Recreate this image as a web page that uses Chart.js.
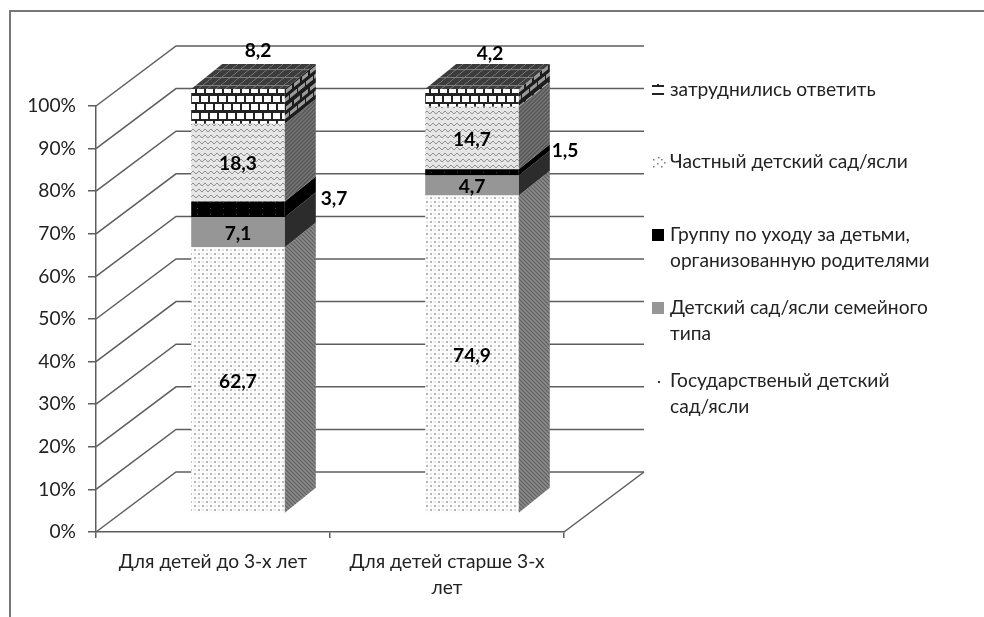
<!DOCTYPE html>
<html lang="ru">
<head>
<meta charset="utf-8">
<title>Детский сад</title>
<style>
  html, body { margin: 0; padding: 0; background: #fff; }
  canvas { display: block; filter: blur(0.55px); }
</style>
<script src="https://cdn.jsdelivr.net/npm/chart.js@4"></script>
</head>
<body>
<canvas id="grafico" width="984" height="617"></canvas>
<script>
const categorias = ['Для детей до 3-х лет', ['Для детей старше 3-х', 'лет']];
const estatal = [62.7, 74.9];
const familiar = [7.1, 4.7];
const grupo = [3.7, 1.5];
const privado = [18.3, 14.7];
const sinRespuesta = [8.2, 4.2];
const ticksY = [0, 10, 20, 30, 40, 50, 60, 70, 80, 90, 100];
const leyenda = [
  ['затруднились ответить'],
  ['Частный детский сад/ясли'],
  ['Группу по уходу за детьми,', 'организованную родителями'],
  ['Детский сад/ясли семейного', 'типа'],
  ['Государственый детский', 'сад/ясли']
];

const FUENTE = 'Lato, "Open Sans", sans-serif';
const TAM = 19.2;
const COLOR_LINEA = '#5e5e5e';
const COLOR_TEXTO = '#222';

// profundidad de la pared del fondo y de las barras
const PARED = { dx: 80, dy: 60 };
const BARRA = { ox: 25, base: 513.5, k: 0.9965, dx: 31, dy: 25 };
const Y_CERO = 532;

// deshace la pequeña escala vertical de las barras para que el patrón no haga moiré
const desp = BARRA.base - Y_CERO * BARRA.k;
const MATRIZ_PLANA = [1, 0, 0, 1 / BARRA.k, 0, (Math.ceil(desp) - desp) / BARRA.k];

function hacerPatron(w, h, dibujar, matriz) {
  const c = document.createElement('canvas');
  c.width = w;
  c.height = h;
  const g = c.getContext('2d');
  dibujar(g);
  const p = g.createPattern(c, 'repeat');
  if (matriz) p.setTransform(new DOMMatrix(matriz));
  return p;
}

function fondo(g, color, w, h) {
  g.fillStyle = color;
  g.fillRect(0, 0, w, h);
}

const patPuntos = hacerPatron(8, 8, g => {
  fondo(g, '#fdfdfd', 8, 8);
  g.fillStyle = '#b6b6b6';
  g.fillRect(1, 1, 2, 2);
  g.fillRect(5, 5, 2, 2);
  g.fillStyle = '#e6e6e6';
  g.fillRect(5, 1, 2, 2);
  g.fillRect(1, 5, 2, 2);
}, MATRIZ_PLANA);
const patOndas = hacerPatron(6, 6, g => {
  fondo(g, '#e6e6e6', 6, 6);
  g.strokeStyle = '#909090';
  g.lineWidth = 1;
  g.beginPath();
  g.moveTo(0, 1); g.lineTo(3, 4); g.lineTo(6, 1);
  g.stroke();
}, MATRIZ_PLANA);
const patNegro = hacerPatron(13, 6, g => {
  fondo(g, '#000', 13, 6);
  g.fillStyle = '#3c3c3c';
  g.fillRect(3, 2, 1, 1);
}, MATRIZ_PLANA);
const patLadrillo = hacerPatron(9, 17, g => {
  fondo(g, '#222', 9, 17);
  g.fillStyle = '#fff';
  g.fillRect(1, 1, 7, 6);
  g.fillRect(5, 10, 8, 6);
  g.fillRect(-4, 10, 7, 6);
}, MATRIZ_PLANA);

// caras laterales
const patRayas = hacerPatron(4, 4, g => {
  fondo(g, '#8a8a8a', 4, 4);
  g.strokeStyle = '#606060';
  g.lineWidth = 1.2;
  g.beginPath();
  g.moveTo(-1, 0); g.lineTo(5, 6);
  g.moveTo(-1, -4); g.lineTo(5, 2);
  g.stroke();
}, MATRIZ_PLANA);
const patRayasOsc = hacerPatron(4, 4, g => {
  fondo(g, '#777', 4, 4);
  g.strokeStyle = '#555';
  g.lineWidth = 1.4;
  g.beginPath();
  g.moveTo(-1, 4); g.lineTo(5, -2);
  g.moveTo(-1, 8); g.lineTo(5, 2);
  g.stroke();
}, MATRIZ_PLANA);
const patLadrilloLado = hacerPatron(8, 17, g => {
  fondo(g, '#1c1c1c', 8, 17);
  g.fillStyle = '#9a9a9a';
  g.fillRect(1, 2, 7, 4);
  g.fillRect(0, 11, 3, 4);
  g.fillRect(5, 11, 3, 4);
}, [1, -BARRA.dy / BARRA.dx, 0, 1, 0, 0]);
const patTecho = hacerPatron(9, 8, g => {
  fondo(g, '#3c3c3c', 9, 8);
  g.fillStyle = '#808080';
  g.fillRect(0, 6, 9, 1);
  g.fillRect(7, 0, 1, 8);
}, [1, 0, -BARRA.dx / BARRA.dy, 1, 0, 0]);

const ladosSerie = [patRayas, '#2c2c2c', '#000', patRayasOsc, patLadrilloLado];

// etiquetas que en el original están desplazadas fuera del centro de la barra
const ajusteEtiquetas = {
  '2-0': { x: 96, y: -12 },
  '2-1': { x: 93, y: -23 },
  '4-0': { x: 20, y: -57 },
  '4-1': { x: 18, y: -46 }
};

function fmt(v) {
  return String(v).replace('.', ',');
}

const dibujo3d = {
  id: 'dibujo3d',
  beforeDatasetsDraw(chart) {
    const c = chart.ctx;
    const yEje = chart.scales.y;
    const x0 = chart.chartArea.left;
    const x1 = chart.chartArea.right;
    c.save();
    // marco
    c.strokeStyle = '#777';
    c.lineWidth = 2;
    c.beginPath();
    c.moveTo(984, 11); c.lineTo(10, 11); c.lineTo(10, 617);
    c.stroke();
    // pared del fondo
    c.strokeStyle = COLOR_LINEA;
    c.lineWidth = 1.5;
    ticksY.forEach(t => {
      const y = yEje.getPixelForValue(t);
      c.beginPath();
      c.moveTo(x0, y);
      c.lineTo(x0 + PARED.dx, y - PARED.dy);
      c.lineTo(x1 + PARED.dx, y - PARED.dy);
      c.stroke();
    });
    const y0 = yEje.getPixelForValue(0);
    c.beginPath();
    c.moveTo(x1, y0);
    c.lineTo(x1 + PARED.dx, y0 - PARED.dy);
    c.stroke();
    c.restore();
    // las barras van en un plano más atrás que los ejes
    c.save();
    c.transform(1, 0, 0, BARRA.k, BARRA.ox, BARRA.base - y0 * BARRA.k);
  },
  afterDatasetsDraw(chart) {
    const c = chart.ctx;
    chart.data.datasets.forEach((ds, i) => {
      chart.getDatasetMeta(i).data.forEach(b => {
        const p = b.getProps(['x', 'y', 'base', 'width'], true);
        const xd = p.x + p.width / 2;
        c.fillStyle = ladosSerie[i];
        c.beginPath();
        c.moveTo(xd, p.base);
        c.lineTo(xd, p.y);
        c.lineTo(xd + BARRA.dx, p.y - BARRA.dy);
        c.lineTo(xd + BARRA.dx, p.base - BARRA.dy);
        c.closePath();
        c.fill();
      });
    });
    // techo
    const ultimo = chart.data.datasets.length - 1;
    chart.getDatasetMeta(ultimo).data.forEach(b => {
      const p = b.getProps(['x', 'y', 'width'], true);
      const xi = p.x - p.width / 2;
      c.fillStyle = patTecho;
      c.beginPath();
      c.moveTo(xi, p.y);
      c.lineTo(xi + p.width, p.y);
      c.lineTo(xi + p.width + BARRA.dx, p.y - BARRA.dy);
      c.lineTo(xi + BARRA.dx, p.y - BARRA.dy);
      c.closePath();
      c.fill();
    });
    // etiquetas de valores
    c.font = 'bold ' + TAM + 'px ' + FUENTE;
    c.textAlign = 'center';
    c.textBaseline = 'middle';
    c.fillStyle = '#000';
    chart.data.datasets.forEach((ds, i) => {
      chart.getDatasetMeta(i).data.forEach((b, j) => {
        const p = b.getProps(['x', 'y', 'base'], true);
        const aj = ajusteEtiquetas[i + '-' + j] || { x: 0, y: 0 };
        c.fillText(fmt(ds.data[j]), p.x + aj.x, (p.y + p.base) / 2 + aj.y + 1.5);
      });
    });
    c.restore();
    dibujarLeyenda(chart);
  }
};

function dibujarLeyenda(chart) {
  const c = chart.ctx;
  const xMuestra = 652;
  const xTexto = 670;
  const posY = [90, 162, 235, 308, 381];
  c.save();
  c.font = TAM + 'px ' + FUENTE;
  c.fillStyle = COLOR_TEXTO;
  c.textAlign = 'left';
  c.textBaseline = 'middle';
  leyenda.forEach((lineas, i) => {
    lineas.forEach((t, k) => {
      c.fillText(t, xTexto, posY[i] + k * 26);
    });
  });
  // muestras
  c.fillStyle = '#222';
  c.fillRect(xMuestra, 85, 12, 2);
  c.fillRect(xMuestra, 93, 12, 2);
  c.fillRect(xMuestra + 5, 84, 2, 3);
  c.fillStyle = '#777';
  [[653, 159], [657, 163], [661, 159], [653, 166], [661, 166], [658, 157], [664, 162]].forEach(d => c.fillRect(d[0], d[1], 1.5, 1.5));
  c.fillStyle = '#000';
  c.fillRect(xMuestra, 229, 12, 12);
  c.fillStyle = '#969696';
  c.fillRect(xMuestra, 302, 12, 12);
  c.fillStyle = '#333';
  c.fillRect(xMuestra + 6, 381, 2, 2);
  c.restore();
}

const ctx = document.getElementById('grafico').getContext('2d');
new Chart(ctx, {
  type: 'bar',
  data: {
    labels: categorias,
    datasets: [
      { label: leyenda[4].join(' '), data: estatal, backgroundColor: patPuntos },
      { label: leyenda[3].join(' '), data: familiar, backgroundColor: '#969696' },
      { label: leyenda[2].join(' '), data: grupo, backgroundColor: patNegro },
      { label: leyenda[1].join(' '), data: privado, backgroundColor: patOndas },
      { label: leyenda[0].join(' '), data: sinRespuesta, backgroundColor: patLadrillo }
    ]
  },
  options: {
    responsive: false,
    animation: false,
    layout: { padding: { left: 0, top: 106, right: 420, bottom: 0 } },
    datasets: { bar: { barPercentage: 0.4, categoryPercentage: 1, borderWidth: 0, clip: false } },
    plugins: { legend: { display: false }, tooltip: { enabled: false }, title: { display: false } },
    scales: {
      x: {
        stacked: true,
        afterFit(s) { s.height = 85; },
        grid: { display: true, drawOnChartArea: false, drawTicks: true, tickLength: 6, color: COLOR_LINEA, lineWidth: 1.5 },
        border: { display: true, color: COLOR_LINEA, width: 1.5 },
        ticks: {
          color: COLOR_TEXTO,
          padding: 11,
          autoSkip: false,
          maxRotation: 0,
          font: { family: FUENTE, size: TAM, lineHeight: 26 / TAM }
        }
      },
      y: {
        stacked: true,
        min: 0,
        max: 100,
        afterFit(s) { s.width = 96; },
        afterBuildTicks(s) { s.ticks = ticksY.map(v => ({ value: v })); },
        grid: { display: true, drawOnChartArea: false, drawTicks: true, tickLength: 8, color: COLOR_LINEA, lineWidth: 1.5 },
        border: { display: true, color: COLOR_LINEA, width: 1.5 },
        ticks: {
          color: COLOR_TEXTO,
          padding: 12,
          font: { family: FUENTE, size: TAM },
          callback: v => v + '%'
        }
      }
    }
  },
  plugins: [dibujo3d]
});
</script>
</body>
</html>
